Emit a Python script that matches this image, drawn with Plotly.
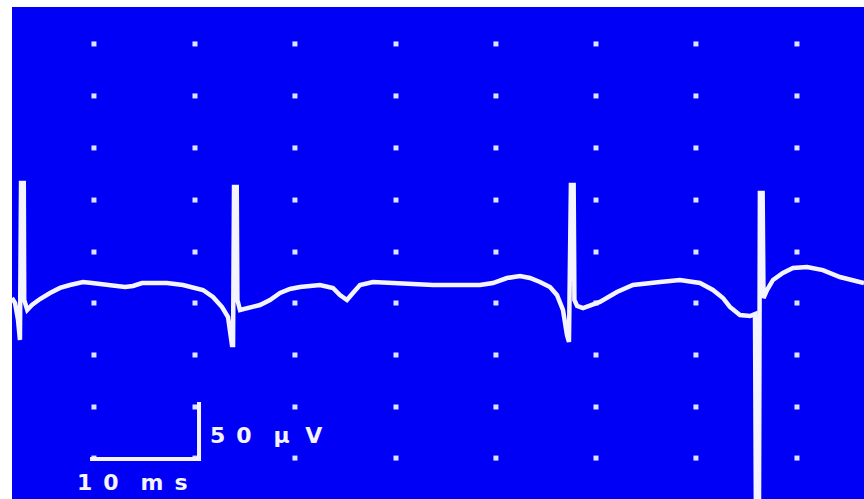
import plotly.graph_objects as go

# Electrogram trace: time (ms) and amplitude (µV)
time_ms = [0, 0.28, 0.55, 0.73, 0.83, 1.08, 1.12, 1.40, 1.83, 2.57, 3.49, 4.40, 5.32, 6.51,
           7.34, 8.07, 8.99, 9.63, 10.37, 11.10, 11.93, 12.66, 14.22, 15.69, 16.61, 17.52,
           18.44, 19.27, 19.82, 20.09, 20.18, 20.28, 20.37, 20.62, 20.68, 20.92, 21.83, 22.75,
           23.67, 24.59, 25.50, 26.42, 28.26, 29.45, 30.09, 30.73, 31.28, 31.93, 33.12, 34.95,
           36.79, 38.62, 40.46, 42.94, 44.13, 45.41, 46.61, 47.52, 48.44, 49.36, 50.00, 50.55,
           50.92, 51.01, 51.10, 51.28, 51.53, 51.60, 51.85, 52.39, 53.94, 55.50, 56.97, 59.45,
           61.28, 63.12, 64.31, 65.23, 65.87, 66.79, 67.71, 68.17, 68.26, 68.53, 68.62, 68.87,
           68.95, 69.27, 69.82, 70.73, 71.65, 72.94, 74.40, 75.96, 77.52, 78.17]
amp_uV = [-7.0, -11.4, -26.0, -43.9, 93.9, 93.9, -8.8, -17.5, -13.2, -7.9, -2.6, 1.8, 4.4, 7.0,
          6.1, 5.3, 3.5, 2.6, 2.6, 3.5, 6.1, 6.1, 6.1, 4.4, 2.6, 0.0,
          -6.1, -14.9, -23.7, -43.9, -48.2, -48.2, 90.4, 90.4, -8.8, -17.5, -15.8, -13.2,
          -8.8, -2.6, 0.9, 2.6, 4.4, 1.8, -4.4, -8.8, -2.6, 4.4, 7.0, 6.1,
          4.4, 4.4, 4.4, 4.4, 6.1, 10.5, 12.3, 10.5, 7.0, 2.6, -4.4, -17.5,
          -39.5, -45.6, -45.6, 92.1, 92.1, -8.8, -14.0, -15.8, -10.5, -1.8, 4.4, 7.0,
          8.8, 6.1, 0.0, -7.0, -14.9, -21.9, -22.8, -21.1, -210.5, -210.5, 85.1, 85.1,
          -7.0, 0.0, 8.8, 14.9, 19.3, 20.2, 17.5, 11.4, 7.0, 6.1]

# Dot grid positions
grid_t = [7.52, 16.79, 25.96, 35.23, 44.40, 53.58, 62.75, 72.02]
grid_v = [215.8, 170.2, 124.6, 78.9, 33.3, -11.4, -57.0, -102.6, -147.4]

# Calibration bar (10 ms, 50 µV)
bar_t = [7.16, 17.16, 17.16]
bar_v = [-148.2, -148.2, -98.2]

BLUE = "#0000F6"
WHITE = "#F4F4FF"

fig = go.Figure()

gx = [t for v in grid_v for t in grid_t]
gy = [v for v in grid_v for t in grid_t]
fig.add_trace(go.Scatter(x=gx, y=gy, mode="markers",
                         marker=dict(symbol="square", size=5, color="#DCE2FF", line=dict(width=0)),
                         hoverinfo="skip", showlegend=False))

fig.add_trace(go.Scatter(x=time_ms, y=amp_uV, mode="lines",
                         line=dict(color=WHITE, width=4.5),
                         showlegend=False))

fig.add_trace(go.Scatter(x=bar_t, y=bar_v, mode="lines",
                         line=dict(color=WHITE, width=4), showlegend=False))

font = dict(family="DejaVu Sans", size=22, color=WHITE)
fig.add_annotation(x=18.0, y=-128, text="<b>5\u20020\u2002\u2002\u03bc\u2002\u2009V</b>", showarrow=False,
                   xanchor="left", yanchor="middle", font=font)
fig.add_annotation(x=5.8, y=-168.4, text="<b>1\u20020\u2002\u2002m\u2002s</b>", showarrow=False,
                   xanchor="left", yanchor="middle", font=font)

fig.update_layout(
    width=864, height=499,
    margin=dict(l=12, r=0, t=7, b=0),
    paper_bgcolor="white", plot_bgcolor=BLUE,
    xaxis=dict(range=[0, 78.17], visible=False, fixedrange=True),
    yaxis=dict(range=[-183.3, 248.2], visible=False, fixedrange=True),
)

fig.write_html(
    "out.html",
    config={"displayModeBar": False},
    post_script="document.body.style.margin='0';"
                "document.body.style.overflow='hidden';"
                "document.documentElement.style.overflow='hidden';",
)
